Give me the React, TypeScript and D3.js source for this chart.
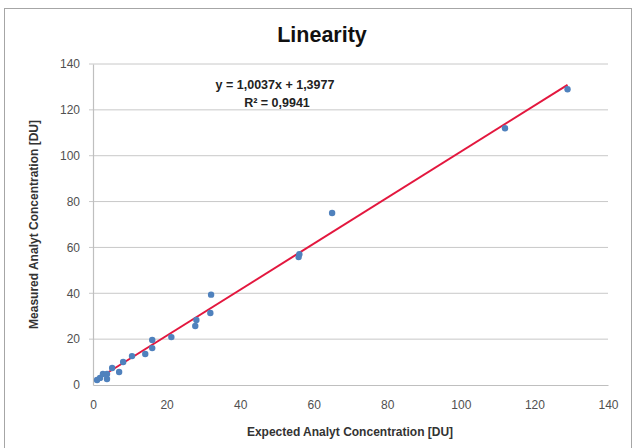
import React, { useEffect, useRef } from 'react';
import * as d3 from 'd3';

// data
const expected = [1.1, 1.9, 2.7, 3.8, 3.8, 5.2, 7.1, 8.2, 10.6, 14.2, 16.1, 16.1, 21.3, 27.8, 28.1, 31.9, 32.1, 55.9, 56.1, 65, 112, 129];
const measured = [2.2, 3.1, 4.8, 2.6, 4.8, 7.4, 5.7, 10.0, 12.6, 13.5, 16.1, 19.6, 20.9, 25.7, 28.4, 31.4, 39.4, 55.8, 57.0, 75, 112, 129];
const xTicks = [0, 20, 40, 60, 80, 100, 120, 140];
const yTicks = [0, 20, 40, 60, 80, 100, 120, 140];
const slope = 1.0037;
const intercept = 1.3977;
const equation = 'y = 1,0037x + 1,3977';
const rSquared = 'R² = 0,9941';

const W = 636;
const H = 448;

export default function App() {
  const ref = useRef<SVGSVGElement>(null);

  useEffect(() => {
    const svg = d3.select(ref.current);
    svg.selectAll('*').remove();

    const font = "'Liberation Sans', Arial, sans-serif";
    const margin = { top: 64, right: 28, bottom: 63, left: 93 };
    const width = W - margin.left - margin.right;
    const height = H - margin.top - margin.bottom;

    // chart area border (runs off the bottom of the picture)
    svg.append('rect')
      .attr('x', 4.5).attr('y', 8.5)
      .attr('width', W - 9).attr('height', H)
      .attr('fill', '#fff').attr('stroke', '#a6a6a6');

    const x = d3.scaleLinear().domain([0, 140]).range([0, width]);
    const y = d3.scaleLinear().domain([0, 140]).range([height, 0]);

    const g = svg.append('g').attr('transform', `translate(${margin.left},${margin.top})`);

    // horizontal gridlines
    g.selectAll('.grid')
      .data(yTicks.filter((t) => t > 0))
      .enter()
      .append('line')
      .attr('x1', -4).attr('x2', width)
      .attr('y1', (d) => y(d)).attr('y2', (d) => y(d))
      .attr('stroke', '#c8c8c8').attr('stroke-width', 1);

    const yAxis = g.append('g').call(d3.axisLeft(y).tickValues(yTicks).tickSize(0).tickPadding(13));
    const xAxis = g.append('g').attr('transform', `translate(0,${height})`)
      .call(d3.axisBottom(x).tickValues(xTicks).tickSize(0).tickPadding(15));
    [xAxis, yAxis].forEach((a) => {
      a.select('.domain').attr('stroke', '#bfbfbf').attr('stroke-width', 1.2);
      a.selectAll('text').attr('font-family', font).attr('font-size', 12).attr('fill', '#505050');
    });

    // trendline
    const xs = d3.extent(expected) as [number, number];
    g.append('line')
      .attr('x1', x(xs[0])).attr('y1', y(slope * xs[0] + intercept))
      .attr('x2', x(xs[1])).attr('y2', y(slope * xs[1] + intercept))
      .attr('stroke', '#e3173e').attr('stroke-width', 2);

    g.selectAll('.dot')
      .data(expected)
      .enter()
      .append('circle')
      .attr('cx', (d) => x(d))
      .attr('cy', (_, i) => y(measured[i]))
      .attr('r', 3.2)
      .attr('fill', '#4f81bd');

    svg.append('text')
      .attr('x', 322).attr('y', 42)
      .attr('text-anchor', 'middle')
      .attr('font-family', font).attr('font-weight', 'bold').attr('font-size', 21.5)
      .attr('fill', '#111')
      .text('Linearity');

    svg.append('text')
      .attr('x', 275).attr('y', 89)
      .attr('text-anchor', 'middle')
      .attr('font-family', font).attr('font-weight', 'bold').attr('font-size', 12.5)
      .attr('fill', '#222')
      .text(equation);
    svg.append('text')
      .attr('x', 277).attr('y', 107)
      .attr('text-anchor', 'middle')
      .attr('font-family', font).attr('font-weight', 'bold').attr('font-size', 12.5)
      .attr('fill', '#222')
      .text(rSquared);

    svg.append('text')
      .attr('x', 350).attr('y', 436)
      .attr('text-anchor', 'middle')
      .attr('font-family', font).attr('font-weight', 'bold').attr('font-size', 12)
      .attr('fill', '#333')
      .text('Expected Analyt Concentration [DU]');

    svg.append('text')
      .attr('transform', `translate(38,${margin.top + height / 2}) rotate(-90)`)
      .attr('text-anchor', 'middle')
      .attr('font-family', font).attr('font-weight', 'bold').attr('font-size', 12)
      .attr('fill', '#333')
      .text('Measured Analyt Concentration [DU]');
  }, []);

  return (
    <svg ref={ref} width={W} height={H} style={{ position: 'absolute', left: 0, top: 0, background: '#fff' }} />
  );
}
